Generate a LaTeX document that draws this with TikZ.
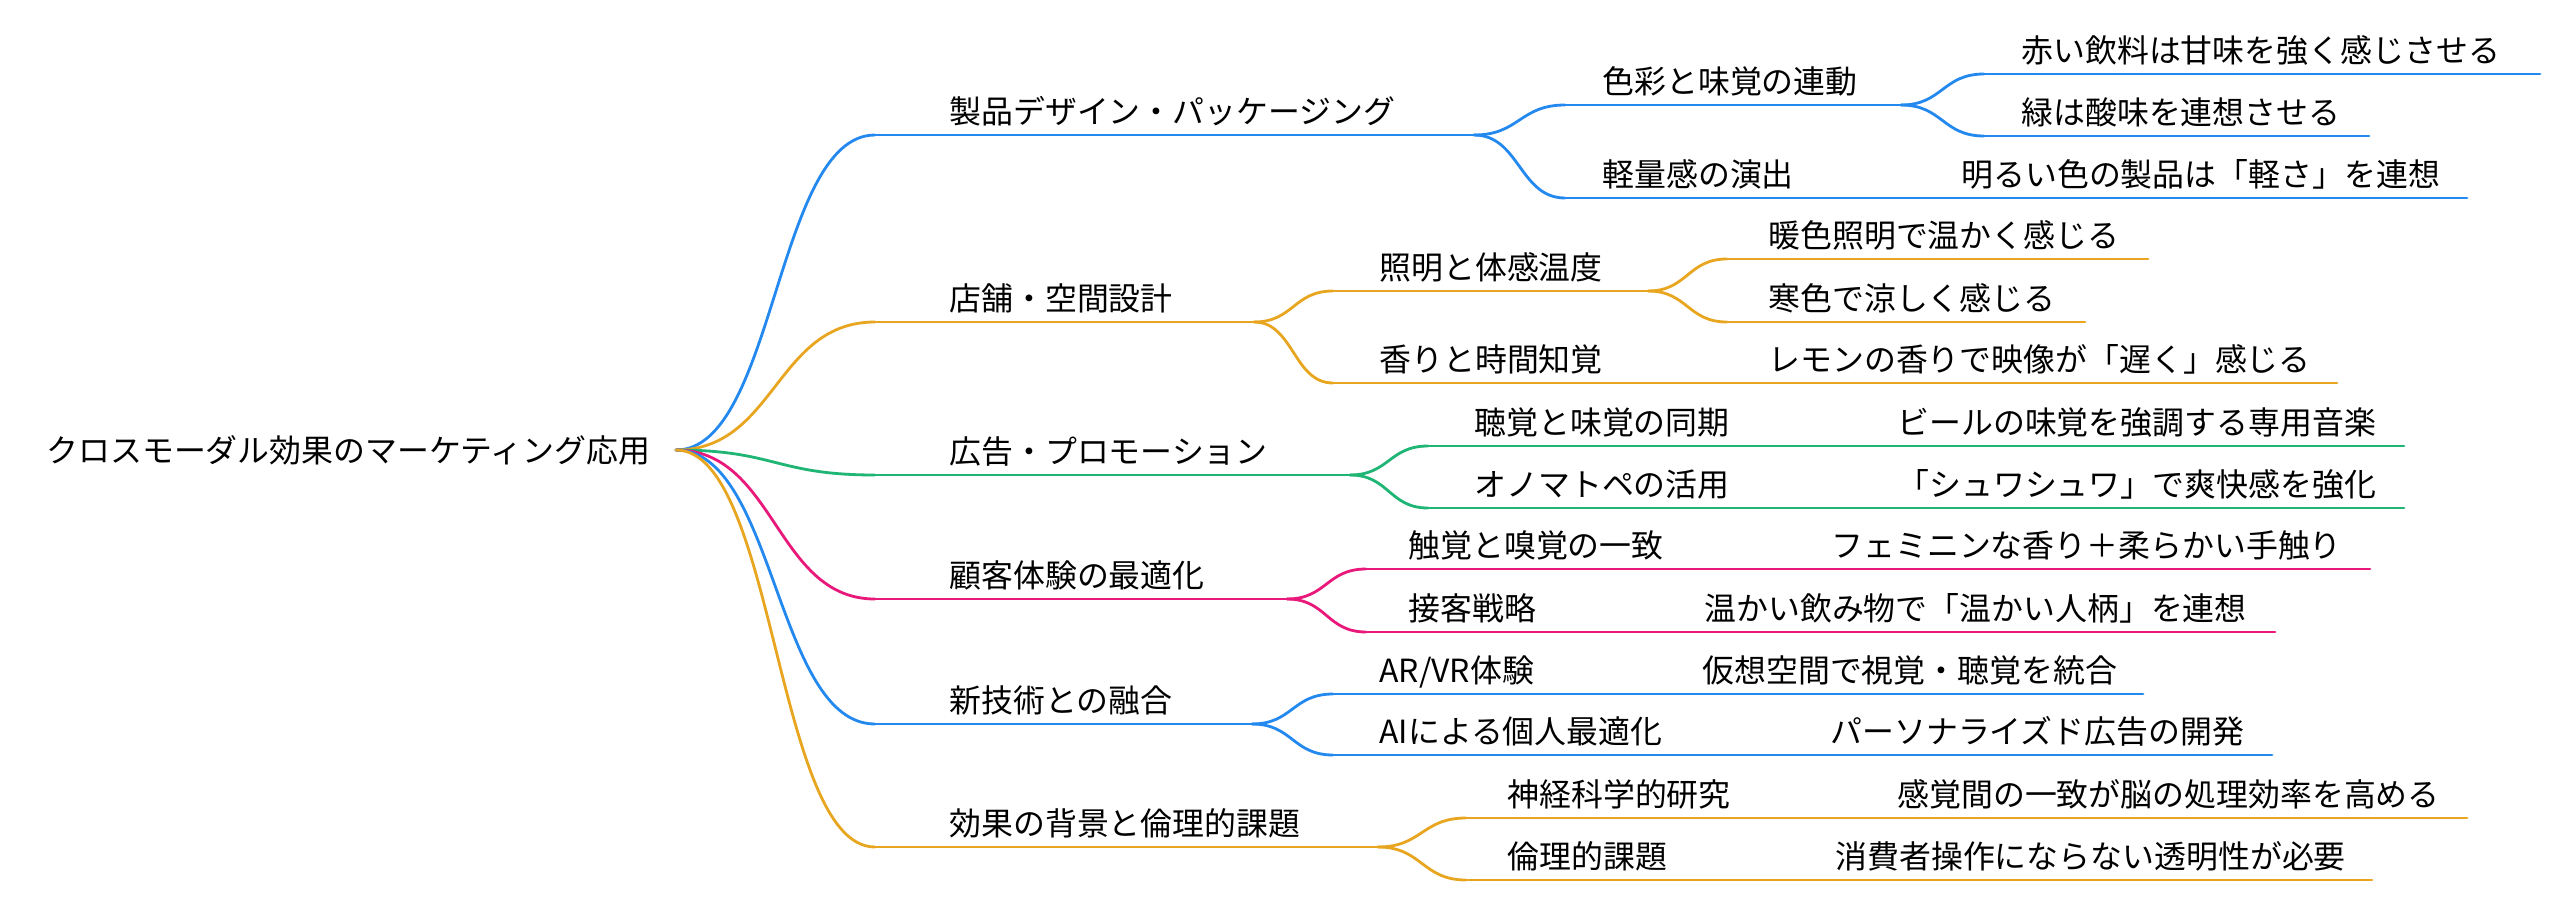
\documentclass[tikz,border=0pt]{standalone}
\usepackage{fontspec}
\setmainfont{Noto Sans CJK JP}
\usetikzlibrary{calc}
\definecolor{cblue}{HTML}{2389EE}
\definecolor{corange}{HTML}{E8A620}
\definecolor{cgreen}{HTML}{1FB574}
\definecolor{cpink}{HTML}{E8197A}
\newcommand\mmnode[7]{%
  \coordinate (#1s) at (#3,#5);
  \coordinate (#1e) at (#4,#5);
  \node[lbl] (#1) at (#6,#5-12) {#7};
  \draw[mmline,#2] (#1s) -- (#1e);
}
\newcommand\mmlink[3]{%
  \path ($(#2)!0.5!(#3)$) coordinate (mmmid);
  \draw[mmline,#1] (#2) .. controls (mmmid |- #2) and (mmmid |- #3) .. (#3);
}
\begin{document}
\begin{tikzpicture}[x=0.5pt,y=-0.5pt,
  mmline/.style={line width=1.4pt,line cap=round},
  lbl/.style={anchor=base west,inner sep=0pt,text=black,font=\fontsize{15.95}{19}\selectfont}]
\fill[white] (0,0) rectangle (2556,900);
\useasboundingbox (0,0) rectangle (2556,900);

% root
\node[lbl] (root) at (46,462) {クロスモーダル効果のマーケティング応用};
\coordinate (roote) at (676,450);

% level 1
\mmnode{a}{cblue}{875}{1474}{135}{949}{製品デザイン・パッケージング}
\mmnode{b}{corange}{875}{1254}{322}{949}{店舗・空間設計}
\mmnode{c}{cgreen}{875}{1350}{475}{949}{広告・プロモーション}
\mmnode{d}{cpink}{875}{1287}{599}{949}{顧客体験の最適化}
\mmnode{e}{cblue}{875}{1252}{724}{949}{新技術との融合}
\mmnode{f}{corange}{875}{1378}{847}{949}{効果の背景と倫理的課題}

% level 2
\mmnode{aa}{cblue}{1565}{1901}{105}{1602}{色彩と味覚の連動}
\mmnode{ab}{cblue}{1565}{1841}{198}{1602}{軽量感の演出}
\mmnode{ba}{corange}{1333}{1648}{291}{1379}{照明と体感温度}
\mmnode{bb}{corange}{1333}{1648}{383}{1379}{香りと時間知覚}
\mmnode{ca}{cgreen}{1428}{1777}{446}{1474}{聴覚と味覚の同期}
\mmnode{cb}{cgreen}{1428}{1777}{508}{1474}{オノマトペの活用}
\mmnode{da}{cpink}{1366}{1711}{569}{1408}{触覚と嗅覚の一致}
\mmnode{db}{cpink}{1366}{1584}{632}{1408}{接客戦略}
\mmnode{ea}{cblue}{1333}{1582}{694}{1379}{AR/VR体験}
\mmnode{eb}{cblue}{1333}{1710}{755}{1379}{AIによる個人最適化}
\mmnode{fa}{corange}{1466}{1777}{818}{1507}{神経科学的研究}
\mmnode{fb}{corange}{1466}{1715}{880}{1507}{倫理的課題}

% level 3
\mmnode{aaa}{cblue}{1984}{2540}{74}{2021}{赤い飲料は甘味を強く感じさせる}
\mmnode{aab}{cblue}{1984}{2369}{136}{2021}{緑は酸味を連想させる}
\mmnode{aba}{cblue}{1924}{2467}{198}{1961}{明るい色の製品は「軽さ」を連想}
\mmnode{baa}{corange}{1727}{2148}{259}{1768}{暖色照明で温かく感じる}
\mmnode{bab}{corange}{1727}{2085}{322}{1768}{寒色で涼しく感じる}
\mmnode{bba}{corange}{1731}{2337}{383}{1768}{レモンの香りで映像が「遅く」感じる}
\mmnode{caa}{cgreen}{1860}{2404}{446}{1897}{ビールの味覚を強調する専用音楽}
\mmnode{cba}{cgreen}{1860}{2404}{508}{1897}{「シュワシュワ」で爽快感を強化}
\mmnode{daa}{cpink}{1794}{2370}{569}{1831}{フェミニンな香り＋柔らかい手触り}
\mmnode{dba}{cpink}{1667}{2275}{632}{1704}{温かい飲み物で「温かい人柄」を連想}
\mmnode{eaa}{cblue}{1665}{2143}{694}{1702}{仮想空間で視覚・聴覚を統合}
\mmnode{eba}{cblue}{1793}{2272}{755}{1830}{パーソナライズド広告の開発}
\mmnode{faa}{corange}{1860}{2467}{818}{1897}{感覚間の一致が脳の処理効率を高める}
\mmnode{fba}{corange}{1798}{2372}{880}{1835}{消費者操作にならない透明性が必要}

% links root -> level 1
\mmlink{cblue}{roote}{as}
\mmlink{corange}{roote}{bs}
\mmlink{cgreen}{roote}{cs}
\mmlink{cpink}{roote}{ds}
\mmlink{cblue}{roote}{es}
\mmlink{corange}{roote}{fs}

% links level 1 -> level 2
\mmlink{cblue}{ae}{aas}
\mmlink{cblue}{ae}{abs}
\mmlink{corange}{be}{bas}
\mmlink{corange}{be}{bbs}
\mmlink{cgreen}{ce}{cas}
\mmlink{cgreen}{ce}{cbs}
\mmlink{cpink}{de}{das}
\mmlink{cpink}{de}{dbs}
\mmlink{cblue}{ee}{eas}
\mmlink{cblue}{ee}{ebs}
\mmlink{corange}{fe}{fas}
\mmlink{corange}{fe}{fbs}

% links level 2 -> level 3
\mmlink{cblue}{aae}{aaas}
\mmlink{cblue}{aae}{aabs}
\mmlink{cblue}{abe}{abas}
\mmlink{corange}{bae}{baas}
\mmlink{corange}{bae}{babs}
\mmlink{corange}{bbe}{bbas}
\mmlink{cgreen}{cae}{caas}
\mmlink{cgreen}{cbe}{cbas}
\mmlink{cpink}{dae}{daas}
\mmlink{cpink}{dbe}{dbas}
\mmlink{cblue}{eae}{eaas}
\mmlink{cblue}{ebe}{ebas}
\mmlink{corange}{fae}{faas}
\mmlink{corange}{fbe}{fbas}
\end{tikzpicture}
\end{document}
